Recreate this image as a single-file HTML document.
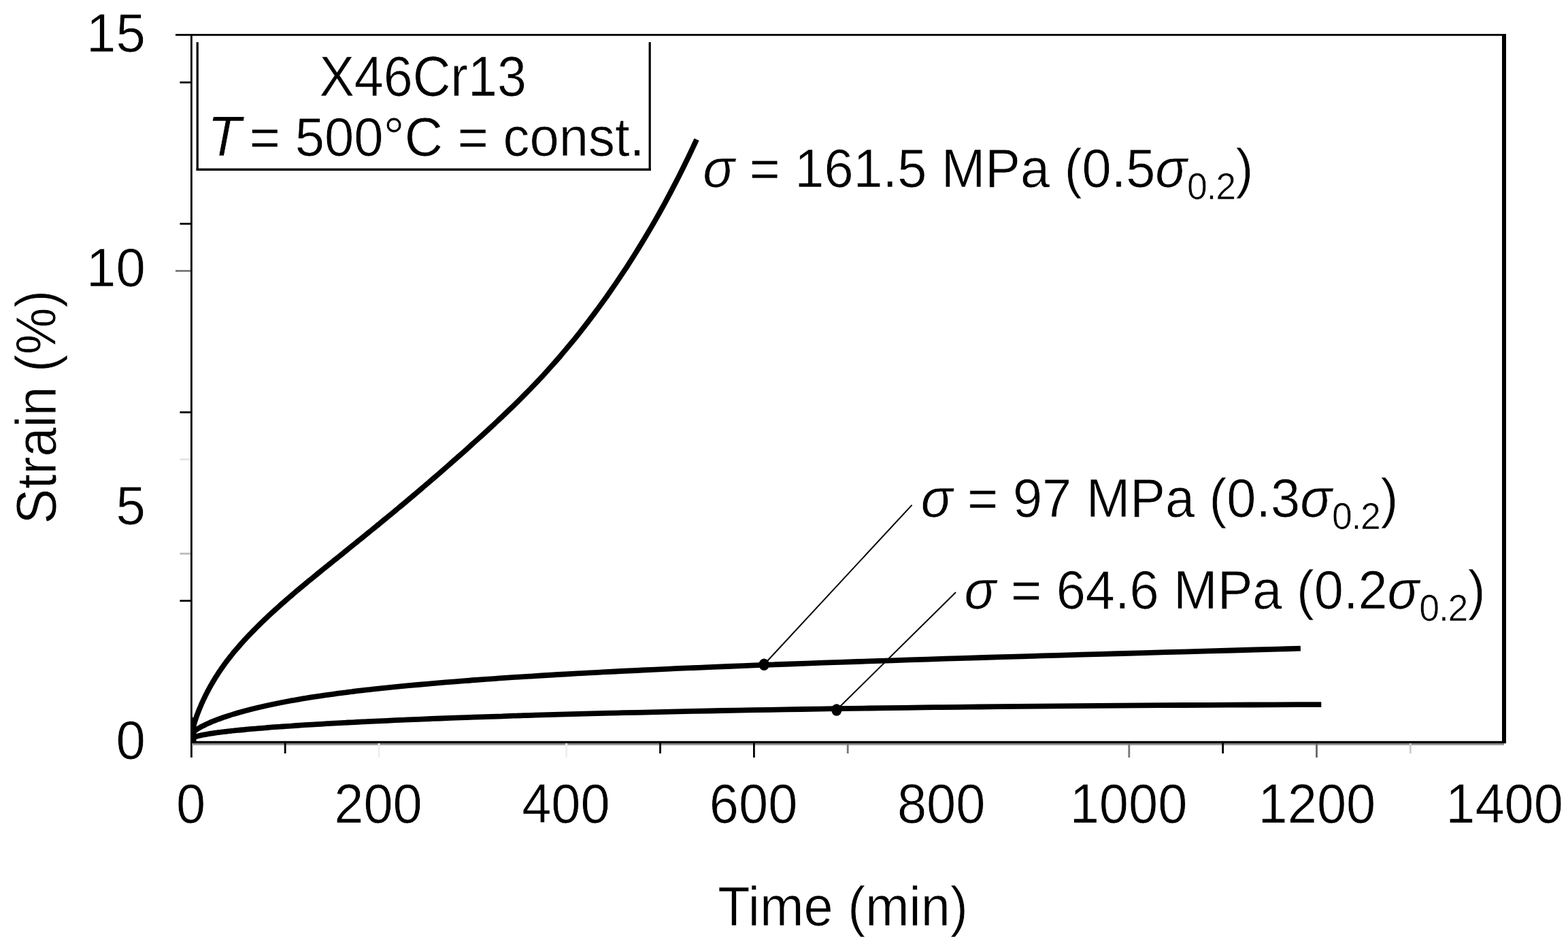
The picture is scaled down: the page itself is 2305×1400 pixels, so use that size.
<!DOCTYPE html>
<html lang="en"><head><meta charset="utf-8"><title>Creep curves X46Cr13, T = 500°C</title>
<style>html,body{margin:0;padding:0;background:#fff;}body{width:2305px;height:1400px;overflow:hidden;}svg{display:block;}text{font-family:"Liberation Sans",sans-serif;fill:#000;}.i{font-style:italic;}</style>
</head><body>
<svg width="2305" height="1400" viewBox="0 0 2305 1400">
<rect width="2305" height="1400" fill="#fff"/>
<g id="axes">
<rect x="258.00" y="49.90" width="1956.00" height="2.80" fill="#000"/>
<rect x="280.00" y="50.00" width="2.80" height="1064.00" fill="#000"/>
<rect x="2208.00" y="50.00" width="6.00" height="1043.00" fill="#000"/>
<rect x="282.00" y="1093.00" width="1929.00" height="3.00" fill="#999"/>
<rect x="280.00" y="1089.80" width="1934.00" height="3.40" fill="#000"/>
</g>
<g id="yticks">
<rect x="264.40" y="119.80" width="15.60" height="2.80" fill="#000"/>
<rect x="264.40" y="327.70" width="15.60" height="2.80" fill="#000"/>
<rect x="258.00" y="397.00" width="22.00" height="2.80" fill="#777"/>
<rect x="264.40" y="604.90" width="15.60" height="2.80" fill="#000"/>
<rect x="264.40" y="674.20" width="15.60" height="2.80" fill="#e4e4e4"/>
<rect x="264.40" y="812.80" width="15.60" height="2.80" fill="#bbb"/>
<rect x="264.40" y="882.10" width="15.60" height="2.80" fill="#000"/>
</g>
<g id="xticks">
<rect x="417.75" y="1093.00" width="2.80" height="15.00" fill="#000"/>
<rect x="555.60" y="1093.00" width="2.80" height="21.00" fill="#eee"/>
<rect x="831.30" y="1093.00" width="2.80" height="21.00" fill="#eee"/>
<rect x="969.15" y="1093.00" width="2.80" height="15.00" fill="#000"/>
<rect x="1107.00" y="1093.00" width="2.80" height="21.00" fill="#000"/>
<rect x="1244.85" y="1093.00" width="2.80" height="15.00" fill="#777"/>
<rect x="1658.40" y="1093.00" width="2.80" height="21.00" fill="#777"/>
<rect x="1796.25" y="1093.00" width="2.80" height="15.00" fill="#000"/>
<rect x="1934.10" y="1093.00" width="2.80" height="21.00" fill="#666"/>
<rect x="2071.95" y="1093.00" width="2.80" height="15.00" fill="#ccc"/>
</g>
<g id="legend">
<rect x="288.60" y="62.00" width="3.20" height="189.00" fill="#000"/>
<rect x="953.60" y="62.00" width="3.20" height="189.00" fill="#000"/>
<rect x="288.60" y="247.60" width="668.20" height="3.40" fill="#000"/>
</g>
<clipPath id="plotclip"><rect x="281" y="52" width="1928" height="1039"/></clipPath>
<g id="curves" clip-path="url(#plotclip)" fill="none" stroke="#000" stroke-width="7.8" stroke-linecap="butt" stroke-linejoin="round">
<path d="M281.5 1080.0 C281.5 1080.0 281.5 1080.2 281.5 1080.2 C281.5 1080.2 281.5 1080.2 281.5 1080.1 C281.5 1080.1 281.6 1080.0 281.6 1079.9 C281.6 1079.8 281.6 1079.6 281.7 1079.5 C281.7 1079.3 281.7 1079.1 281.8 1078.9 C281.8 1078.6 281.9 1078.4 281.9 1078.1 C282.0 1077.8 282.0 1077.4 282.1 1077.1 C282.2 1076.7 282.3 1076.4 282.4 1075.9 C282.5 1075.5 282.6 1075.1 282.7 1074.6 C282.8 1074.2 282.9 1073.7 283.0 1073.2 C283.1 1072.6 283.3 1072.1 283.4 1071.5 C283.6 1071.0 283.7 1070.4 283.9 1069.7 C284.1 1069.1 284.2 1068.5 284.4 1067.8 C284.6 1067.1 284.8 1066.4 285.0 1065.7 C285.2 1065.0 285.5 1064.3 285.7 1063.5 C285.9 1062.7 286.2 1062.0 286.4 1061.2 C286.7 1060.4 286.9 1059.5 287.2 1058.7 C287.5 1057.8 287.8 1057.0 288.1 1056.1 C288.4 1055.2 288.7 1054.3 289.1 1053.3 C289.4 1052.4 289.7 1051.5 290.1 1050.5 C290.5 1049.5 290.8 1048.5 291.2 1047.5 C291.6 1046.5 292.0 1045.5 292.4 1044.5 C292.8 1043.4 293.3 1042.4 293.7 1041.3 C294.1 1040.3 294.6 1039.2 295.1 1038.1 C295.5 1037.0 296.0 1035.8 296.5 1034.7 C297.0 1033.6 297.5 1032.4 298.1 1031.3 C298.6 1030.1 299.1 1028.9 299.7 1027.8 C300.3 1026.6 300.8 1025.4 301.4 1024.2 C302.0 1023.0 302.6 1021.7 303.3 1020.5 C303.9 1019.3 304.5 1018.0 305.2 1016.8 C305.9 1015.5 306.5 1014.2 307.2 1013.0 C307.9 1011.7 308.6 1010.4 309.3 1009.1 C310.1 1007.8 310.8 1006.5 311.6 1005.2 C312.3 1003.9 313.1 1002.6 313.9 1001.2 C314.7 999.9 315.5 998.6 316.3 997.2 C317.2 995.9 318.0 994.5 318.9 993.2 C319.7 991.8 320.6 990.5 321.5 989.1 C322.4 987.7 323.4 986.4 324.3 985.0 C325.2 983.6 326.2 982.2 327.2 980.9 C328.1 979.5 329.1 978.1 330.1 976.7 C331.2 975.3 332.2 973.9 333.2 972.5 C334.3 971.1 335.4 969.7 336.5 968.3 C337.5 966.9 338.7 965.5 339.8 964.1 C340.9 962.7 342.1 961.3 343.2 959.8 C344.4 958.4 345.6 957.0 346.8 955.6 C348.0 954.1 349.2 952.7 350.5 951.3 C351.7 949.8 353.0 948.4 354.3 946.9 C355.6 945.5 356.9 944.0 358.2 942.5 C359.6 941.1 360.9 939.6 362.3 938.1 C363.7 936.7 365.1 935.2 366.5 933.7 C367.9 932.2 369.3 930.7 370.8 929.2 C372.3 927.7 373.7 926.2 375.2 924.7 C376.7 923.2 378.3 921.7 379.8 920.1 C381.4 918.6 382.9 917.1 384.5 915.5 C386.1 914.0 387.7 912.4 389.3 910.9 C391.0 909.3 392.6 907.8 394.3 906.2 C396.0 904.6 397.7 903.0 399.4 901.4 C401.1 899.9 402.9 898.3 404.7 896.6 C406.4 895.0 408.2 893.4 410.0 891.8 C411.8 890.2 413.7 888.6 415.5 886.9 C417.4 885.3 419.3 883.6 421.2 882.0 C423.1 880.3 425.0 878.6 427.0 877.0 C429.0 875.3 430.9 873.6 432.9 871.9 C434.9 870.2 437.0 868.5 439.0 866.8 C441.1 865.0 443.1 863.3 445.2 861.6 C447.3 859.8 449.5 858.1 451.6 856.3 C453.8 854.5 455.9 852.7 458.1 850.9 C460.3 849.1 462.6 847.3 464.8 845.5 C467.0 843.6 469.3 841.8 471.6 839.9 C473.9 838.1 476.2 836.2 478.6 834.3 C480.9 832.4 483.3 830.5 485.7 828.5 C488.1 826.6 490.5 824.6 493.0 822.7 C495.4 820.7 497.9 818.7 500.4 816.7 C502.9 814.7 505.4 812.6 507.9 810.6 C510.5 808.5 513.1 806.4 515.7 804.3 C518.3 802.2 520.9 800.1 523.6 798.0 C526.2 795.8 528.9 793.7 531.6 791.5 C534.3 789.3 537.0 787.1 539.8 784.8 C542.6 782.6 545.3 780.3 548.2 778.0 C551.0 775.7 553.8 773.4 556.7 771.1 C559.5 768.7 562.4 766.3 565.4 763.9 C568.3 761.5 571.2 759.1 574.2 756.7 C577.2 754.2 580.2 751.7 583.2 749.2 C586.2 746.7 589.3 744.1 592.4 741.6 C595.5 739.0 598.6 736.4 601.7 733.7 C604.8 731.1 608.0 728.4 611.2 725.7 C614.4 723.0 617.6 720.3 620.9 717.5 C624.1 714.7 627.4 711.9 630.7 709.1 C634.0 706.2 637.4 703.4 640.7 700.5 C644.1 697.6 647.5 694.6 650.9 691.6 C654.3 688.6 657.8 685.6 661.2 682.6 C664.7 679.5 668.2 676.4 671.8 673.3 C675.3 670.2 678.9 667.0 682.5 663.8 C686.0 660.6 689.7 657.3 693.3 654.0 C697.0 650.7 700.7 647.4 704.4 644.0 C708.1 640.7 711.8 637.3 715.6 633.8 C719.3 630.3 723.1 626.8 727.0 623.3 C730.8 619.7 734.7 616.1 738.5 612.4 C742.4 608.7 746.3 605.0 750.3 601.2 C754.2 597.4 758.2 593.5 762.2 589.5 C766.2 585.5 770.3 581.5 774.3 577.3 C778.4 573.2 782.5 568.9 786.6 564.6 C790.7 560.3 794.9 555.8 799.1 551.3 C803.3 546.7 807.5 542.1 811.7 537.3 C816.0 532.5 820.3 527.6 824.6 522.6 C828.9 517.5 833.2 512.4 837.6 507.1 C842.0 501.8 846.4 496.4 850.8 490.8 C855.2 485.2 859.7 479.5 864.2 473.6 C868.7 467.8 873.2 461.7 877.8 455.5 C882.3 449.4 886.9 443.0 891.6 436.5 C896.2 429.9 900.8 423.2 905.5 416.4 C910.2 409.5 914.9 402.4 919.7 395.2 C924.4 387.9 929.2 380.5 934.0 372.8 C938.8 365.1 943.7 357.2 948.5 349.1 C953.4 340.9 958.3 332.6 963.3 323.9 C968.2 315.2 973.2 306.3 978.2 297.1 C983.2 287.8 988.2 278.3 993.3 268.4 C998.4 258.6 1003.5 248.4 1008.6 237.8 C1013.7 227.3 1021.5 210.6 1024.1 205.1"/>
<path d="M281.5 1080.1 C281.5 1080.1 281.5 1080.1 281.5 1080.0 C281.5 1080.0 281.5 1079.9 281.6 1079.8 C281.6 1079.7 281.6 1079.7 281.7 1079.6 C281.7 1079.5 281.8 1079.4 281.8 1079.2 C281.9 1079.1 282.0 1079.0 282.1 1078.8 C282.2 1078.7 282.3 1078.6 282.4 1078.4 C282.6 1078.2 282.7 1078.1 282.9 1077.9 C283.0 1077.7 283.2 1077.5 283.4 1077.3 C283.6 1077.1 283.8 1076.9 284.1 1076.7 C284.3 1076.4 284.6 1076.2 284.8 1076.0 C285.1 1075.7 285.4 1075.5 285.7 1075.2 C286.1 1075.0 286.4 1074.7 286.8 1074.4 C287.1 1074.2 287.5 1073.9 287.9 1073.6 C288.3 1073.3 288.8 1073.0 289.2 1072.7 C289.7 1072.4 290.2 1072.1 290.7 1071.8 C291.2 1071.4 291.7 1071.1 292.3 1070.8 C292.9 1070.4 293.5 1070.1 294.1 1069.7 C294.7 1069.4 295.3 1069.0 296.0 1068.7 C296.7 1068.3 297.4 1067.9 298.1 1067.6 C298.8 1067.2 299.6 1066.8 300.4 1066.4 C301.2 1066.0 302.0 1065.6 302.8 1065.2 C303.7 1064.8 304.6 1064.4 305.5 1064.0 C306.4 1063.6 307.3 1063.2 308.3 1062.8 C309.2 1062.3 310.2 1061.9 311.3 1061.5 C312.3 1061.1 313.4 1060.6 314.5 1060.2 C315.6 1059.7 316.7 1059.3 317.9 1058.8 C319.0 1058.4 320.2 1057.9 321.5 1057.5 C322.7 1057.0 324.0 1056.6 325.3 1056.1 C326.6 1055.6 327.9 1055.2 329.3 1054.7 C330.7 1054.2 332.1 1053.8 333.5 1053.3 C335.0 1052.8 336.5 1052.3 338.0 1051.9 C339.5 1051.4 341.0 1050.9 342.6 1050.4 C344.2 1049.9 345.9 1049.4 347.5 1048.9 C349.2 1048.5 350.9 1048.0 352.6 1047.5 C354.4 1047.0 356.2 1046.5 358.0 1046.0 C359.8 1045.5 361.7 1045.0 363.6 1044.5 C365.5 1044.0 367.4 1043.5 369.4 1043.0 C371.4 1042.5 373.4 1042.0 375.4 1041.5 C377.5 1041.0 379.6 1040.5 381.8 1040.0 C383.9 1039.5 386.1 1039.0 388.3 1038.5 C390.5 1038.0 392.8 1037.5 395.1 1037.0 C397.4 1036.5 399.8 1036.0 402.2 1035.5 C404.6 1035.0 407.0 1034.5 409.5 1034.0 C411.9 1033.5 414.5 1033.0 417.0 1032.5 C419.6 1032.0 422.2 1031.5 424.9 1031.0 C427.5 1030.5 430.2 1030.0 433.0 1029.6 C435.7 1029.1 438.5 1028.6 441.3 1028.1 C444.2 1027.6 447.0 1027.1 450.0 1026.7 C452.9 1026.2 455.9 1025.7 458.9 1025.2 C461.9 1024.8 465.0 1024.3 468.1 1023.8 C471.2 1023.4 474.3 1022.9 477.5 1022.4 C480.7 1022.0 484.0 1021.5 487.3 1021.1 C490.6 1020.6 493.9 1020.2 497.3 1019.7 C500.7 1019.3 504.2 1018.8 507.7 1018.4 C511.1 1017.9 514.7 1017.5 518.3 1017.0 C521.9 1016.6 525.5 1016.2 529.2 1015.7 C532.9 1015.3 536.6 1014.9 540.4 1014.4 C544.2 1014.0 548.0 1013.6 551.9 1013.1 C555.8 1012.7 559.7 1012.3 563.7 1011.9 C567.7 1011.5 571.7 1011.0 575.8 1010.6 C579.9 1010.2 584.0 1009.8 588.2 1009.4 C592.4 1009.0 596.7 1008.6 601.0 1008.2 C605.2 1007.8 609.6 1007.4 614.0 1007.0 C618.4 1006.6 622.8 1006.2 627.3 1005.8 C631.8 1005.4 636.4 1005.0 641.0 1004.6 C645.6 1004.2 650.3 1003.8 655.0 1003.4 C659.7 1003.0 664.5 1002.7 669.3 1002.3 C674.1 1001.9 679.0 1001.5 683.9 1001.1 C688.9 1000.8 693.9 1000.4 698.9 1000.0 C703.9 999.6 709.0 999.3 714.2 998.9 C719.3 998.5 724.5 998.2 729.8 997.8 C735.1 997.4 740.4 997.1 745.8 996.7 C751.1 996.3 756.6 996.0 762.0 995.6 C767.5 995.3 773.1 994.9 778.7 994.6 C784.3 994.2 789.9 993.9 795.6 993.5 C801.4 993.2 807.1 992.8 812.9 992.5 C818.8 992.1 824.7 991.8 830.6 991.5 C836.5 991.1 842.5 990.8 848.6 990.4 C854.7 990.1 860.8 989.8 867.0 989.4 C873.1 989.1 879.4 988.8 885.7 988.4 C892.0 988.1 898.3 987.8 904.7 987.5 C911.1 987.1 917.6 986.8 924.1 986.5 C930.7 986.2 937.3 985.9 943.9 985.5 C950.6 985.2 957.3 984.9 964.0 984.6 C970.8 984.3 977.6 984.0 984.5 983.7 C991.4 983.3 998.4 983.0 1005.4 982.7 C1012.4 982.4 1019.5 982.1 1026.6 981.8 C1033.8 981.5 1041.0 981.2 1048.2 980.9 C1055.5 980.6 1062.8 980.3 1070.2 980.0 C1077.6 979.7 1085.0 979.4 1092.5 979.1 C1100.0 978.8 1107.6 978.5 1115.2 978.2 C1122.9 977.9 1130.6 977.6 1138.3 977.3 C1146.1 977.0 1153.9 976.8 1161.8 976.5 C1169.7 976.2 1177.6 975.9 1185.7 975.6 C1193.7 975.3 1201.8 975.0 1209.9 974.7 C1218.0 974.4 1226.3 974.1 1234.5 973.9 C1242.8 973.6 1251.1 973.3 1259.5 973.0 C1267.9 972.7 1276.4 972.4 1284.9 972.1 C1293.5 971.9 1302.1 971.6 1310.7 971.3 C1319.4 971.0 1328.1 970.7 1336.9 970.4 C1345.7 970.1 1354.6 969.9 1363.5 969.6 C1372.4 969.3 1381.4 969.0 1390.5 968.7 C1399.5 968.4 1408.7 968.2 1417.9 967.9 C1427.1 967.6 1436.3 967.3 1445.7 967.0 C1455.0 966.7 1464.4 966.4 1473.8 966.2 C1483.3 965.9 1492.8 965.6 1502.4 965.3 C1512.0 965.0 1521.7 964.7 1531.4 964.4 C1541.2 964.2 1551.0 963.9 1560.8 963.6 C1570.7 963.3 1580.7 963.0 1590.7 962.7 C1600.7 962.4 1610.7 962.1 1620.9 961.8 C1631.0 961.5 1641.3 961.2 1651.5 961.0 C1661.8 960.7 1672.2 960.4 1682.6 960.1 C1693.0 959.8 1703.5 959.5 1714.1 959.2 C1724.7 958.9 1735.3 958.6 1746.0 958.3 C1756.7 958.0 1767.5 957.7 1778.3 957.4 C1789.2 957.1 1800.1 956.8 1811.1 956.5 C1822.1 956.2 1833.1 955.8 1844.3 955.5 C1855.4 955.2 1866.6 954.9 1877.9 954.6 C1889.1 954.3 1906.2 953.8 1911.9 953.7"/>
<path d="M281.5 1087.6 C281.5 1087.6 281.5 1087.4 281.5 1087.3 C281.5 1087.3 281.5 1087.2 281.6 1087.1 C281.6 1087.0 281.6 1086.9 281.7 1086.8 C281.7 1086.7 281.8 1086.6 281.8 1086.5 C281.9 1086.3 282.0 1086.2 282.1 1086.1 C282.2 1086.0 282.3 1085.9 282.4 1085.8 C282.6 1085.7 282.7 1085.6 282.9 1085.5 C283.1 1085.4 283.2 1085.2 283.4 1085.1 C283.6 1085.0 283.9 1084.9 284.1 1084.8 C284.4 1084.6 284.6 1084.5 284.9 1084.4 C285.2 1084.3 285.5 1084.2 285.8 1084.0 C286.1 1083.9 286.5 1083.8 286.9 1083.6 C287.2 1083.5 287.6 1083.4 288.1 1083.3 C288.5 1083.1 288.9 1083.0 289.4 1082.9 C289.9 1082.7 290.3 1082.6 290.9 1082.4 C291.4 1082.3 291.9 1082.2 292.5 1082.0 C293.1 1081.9 293.7 1081.8 294.3 1081.6 C294.9 1081.5 295.6 1081.3 296.3 1081.2 C297.0 1081.0 297.7 1080.9 298.4 1080.7 C299.2 1080.6 299.9 1080.5 300.7 1080.3 C301.5 1080.2 302.4 1080.0 303.2 1079.9 C304.1 1079.7 305.0 1079.5 305.9 1079.4 C306.8 1079.2 307.8 1079.1 308.8 1078.9 C309.8 1078.8 310.8 1078.6 311.8 1078.5 C312.9 1078.3 314.0 1078.1 315.1 1078.0 C316.2 1077.8 317.4 1077.7 318.6 1077.5 C319.7 1077.3 321.0 1077.2 322.2 1077.0 C323.5 1076.9 324.8 1076.7 326.1 1076.5 C327.4 1076.4 328.8 1076.2 330.2 1076.0 C331.6 1075.9 333.0 1075.7 334.5 1075.5 C336.0 1075.4 337.5 1075.2 339.0 1075.0 C340.6 1074.9 342.2 1074.7 343.8 1074.5 C345.4 1074.3 347.1 1074.2 348.8 1074.0 C350.5 1073.8 352.2 1073.7 354.0 1073.5 C355.7 1073.3 357.6 1073.1 359.4 1073.0 C361.3 1072.8 363.2 1072.6 365.1 1072.4 C367.0 1072.3 369.0 1072.1 371.0 1071.9 C373.0 1071.7 375.1 1071.5 377.2 1071.4 C379.3 1071.2 381.4 1071.0 383.6 1070.8 C385.8 1070.6 388.0 1070.5 390.3 1070.3 C392.6 1070.1 394.9 1069.9 397.2 1069.7 C399.6 1069.6 402.0 1069.4 404.4 1069.2 C406.8 1069.0 409.3 1068.8 411.8 1068.7 C414.4 1068.5 416.9 1068.3 419.6 1068.1 C422.2 1067.9 424.8 1067.7 427.5 1067.6 C430.2 1067.4 433.0 1067.2 435.8 1067.0 C438.6 1066.8 441.4 1066.6 444.3 1066.4 C447.2 1066.3 450.1 1066.1 453.1 1065.9 C456.1 1065.7 459.1 1065.5 462.2 1065.3 C465.3 1065.2 468.4 1065.0 471.5 1064.8 C474.7 1064.6 477.9 1064.4 481.2 1064.2 C484.5 1064.0 487.8 1063.9 491.1 1063.7 C494.5 1063.5 497.9 1063.3 501.4 1063.1 C504.8 1062.9 508.3 1062.7 511.9 1062.5 C515.4 1062.4 519.0 1062.2 522.7 1062.0 C526.3 1061.8 530.0 1061.6 533.8 1061.4 C537.5 1061.2 541.4 1061.1 545.2 1060.9 C549.1 1060.7 553.0 1060.5 556.9 1060.3 C560.9 1060.1 564.9 1060.0 569.0 1059.8 C573.0 1059.6 577.1 1059.4 581.3 1059.2 C585.5 1059.0 589.7 1058.8 593.9 1058.7 C598.2 1058.5 602.5 1058.3 606.9 1058.1 C611.3 1057.9 615.7 1057.7 620.2 1057.6 C624.7 1057.4 629.2 1057.2 633.8 1057.0 C638.4 1056.8 643.0 1056.7 647.7 1056.5 C652.4 1056.3 657.1 1056.1 661.9 1055.9 C666.8 1055.7 671.6 1055.6 676.5 1055.4 C681.4 1055.2 686.4 1055.0 691.4 1054.9 C696.5 1054.7 701.5 1054.5 706.7 1054.3 C711.8 1054.1 717.0 1054.0 722.2 1053.8 C727.5 1053.6 732.8 1053.4 738.1 1053.3 C743.5 1053.1 748.9 1052.9 754.4 1052.7 C759.9 1052.6 765.4 1052.4 771.0 1052.2 C776.6 1052.1 782.2 1051.9 787.9 1051.7 C793.6 1051.5 799.4 1051.4 805.2 1051.2 C811.0 1051.0 816.9 1050.9 822.8 1050.7 C828.8 1050.5 834.8 1050.4 840.8 1050.2 C846.9 1050.0 853.0 1049.9 859.2 1049.7 C865.3 1049.5 871.6 1049.4 877.9 1049.2 C884.1 1049.0 890.5 1048.9 896.9 1048.7 C903.3 1048.6 909.8 1048.4 916.3 1048.2 C922.8 1048.1 929.4 1047.9 936.1 1047.8 C942.7 1047.6 949.5 1047.4 956.2 1047.3 C963.0 1047.1 969.8 1047.0 976.7 1046.8 C983.6 1046.7 990.6 1046.5 997.6 1046.4 C1004.6 1046.2 1011.7 1046.1 1018.9 1045.9 C1026.0 1045.8 1033.2 1045.6 1040.5 1045.5 C1047.8 1045.3 1055.1 1045.2 1062.5 1045.0 C1069.9 1044.9 1077.3 1044.8 1084.9 1044.6 C1092.4 1044.5 1100.0 1044.3 1107.6 1044.2 C1115.3 1044.1 1123.0 1043.9 1130.8 1043.8 C1138.5 1043.6 1146.4 1043.5 1154.3 1043.4 C1162.2 1043.2 1170.2 1043.1 1178.2 1043.0 C1186.2 1042.8 1194.3 1042.7 1202.5 1042.6 C1210.7 1042.5 1218.9 1042.3 1227.2 1042.2 C1235.5 1042.1 1243.8 1042.0 1252.3 1041.8 C1260.7 1041.7 1269.2 1041.6 1277.7 1041.5 C1286.3 1041.4 1294.9 1041.2 1303.6 1041.1 C1312.3 1041.0 1321.1 1040.9 1329.9 1040.8 C1338.7 1040.7 1347.6 1040.5 1356.6 1040.4 C1365.5 1040.3 1374.6 1040.2 1383.6 1040.1 C1392.7 1040.0 1401.9 1039.9 1411.1 1039.8 C1420.4 1039.7 1429.7 1039.6 1439.0 1039.5 C1448.4 1039.4 1457.8 1039.3 1467.3 1039.2 C1476.8 1039.1 1486.4 1039.0 1496.0 1038.9 C1505.7 1038.8 1515.4 1038.7 1525.2 1038.6 C1534.9 1038.5 1544.8 1038.4 1554.7 1038.4 C1564.6 1038.3 1574.6 1038.2 1584.7 1038.1 C1594.7 1038.0 1604.8 1037.9 1615.0 1037.9 C1625.2 1037.8 1635.5 1037.7 1645.8 1037.6 C1656.2 1037.6 1666.6 1037.5 1677.0 1037.4 C1687.5 1037.3 1698.1 1037.3 1708.7 1037.2 C1719.3 1037.1 1730.0 1037.1 1740.8 1037.0 C1751.5 1036.9 1762.4 1036.9 1773.3 1036.8 C1784.2 1036.8 1795.1 1036.7 1806.2 1036.7 C1817.2 1036.6 1828.4 1036.5 1839.6 1036.5 C1850.7 1036.4 1862.0 1036.4 1873.3 1036.4 C1884.7 1036.3 1896.1 1036.3 1907.6 1036.2 C1919.1 1036.2 1936.5 1036.1 1942.3 1036.1"/>
</g>
<path id="origin-blob" d="M282 1090 L282 1052 L285 1058 L288.5 1064 L288.5 1090 Z" fill="#000"/>
<g id="leaders" stroke="#000" stroke-width="2" fill="#000">
<line x1="1123.2" y1="977.2" x2="1340.6" y2="742.6"/>
<line x1="1229.8" y1="1044.0" x2="1405.0" y2="871.0"/>
<ellipse cx="1123.2" cy="977.2" rx="7.7" ry="8.8" stroke="none"/>
<ellipse cx="1229.8" cy="1044.0" rx="7.7" ry="8.8" stroke="none"/>
</g>
<g id="labels" font-size="78" stroke="#fff" stroke-width="0.7" stroke-linejoin="round">
<text transform="translate(213.80 76.40) scale(1.0000 1.0150)" text-anchor="end">15</text>
<text transform="translate(213.80 421.20) scale(1.0000 1.0150)" text-anchor="end">10</text>
<text transform="translate(213.80 770.60) scale(1.0000 1.0150)" text-anchor="end">5</text>
<text transform="translate(213.80 1115.60) scale(1.0000 1.0150)" text-anchor="end">0</text>
<text transform="translate(280.70 1209.60) scale(0.9950 1.0450)" text-anchor="middle">0</text>
<text transform="translate(556.00 1209.60) scale(0.9950 1.0450)" text-anchor="middle">200</text>
<text transform="translate(831.90 1209.60) scale(0.9950 1.0450)" text-anchor="middle">400</text>
<text transform="translate(1107.60 1209.60) scale(0.9950 1.0450)" text-anchor="middle">600</text>
<text transform="translate(1383.70 1209.60) scale(0.9950 1.0450)" text-anchor="middle">800</text>
<text transform="translate(1659.00 1209.60) scale(0.9950 1.0450)" text-anchor="middle">1000</text>
<text transform="translate(1935.90 1209.60) scale(0.9950 1.0450)" text-anchor="middle">1200</text>
<text transform="translate(2211.60 1209.60) scale(0.9950 1.0450)" text-anchor="middle">1400</text>
<text transform="translate(1239.00 1361.30) scale(0.9940 1.0350)" text-anchor="middle">Time (min)</text>
<text transform="translate(81.60 598.60) rotate(-90) scale(0.9920 1.0700)" text-anchor="middle">Strain (%)</text>
<text transform="translate(621.60 140.90) scale(0.9890 1.0700)" text-anchor="middle">X46Cr13</text>
<text transform="translate(305.00 229.40) scale(1.0400 1.0600)"><tspan class="i">T</tspan></text>
<text transform="translate(366.60 229.40) scale(0.9980 1.0300)">= 500°C = const.</text>
<text transform="translate(1033.20 275.40) scale(0.9940 1.0120)"><tspan class="i">σ</tspan> = 161.5 MPa (0.5<tspan class="i">σ</tspan><tspan font-size="54" dy="17.6" letter-spacing="-1.3">0.2</tspan><tspan dy="-17.6" dx="0.8">)</tspan></text>
<text transform="translate(1353.80 760.40) scale(0.9940 1.0120)"><tspan class="i">σ</tspan> = 97 MPa (0.3<tspan class="i">σ</tspan><tspan font-size="54" dy="17.6" letter-spacing="-1.3">0.2</tspan><tspan dy="-17.6" dx="0.8">)</tspan></text>
<text transform="translate(1417.60 895.10) scale(0.9940 1.0120)"><tspan class="i">σ</tspan> = 64.6 MPa (0.2<tspan class="i">σ</tspan><tspan font-size="54" dy="17.6" letter-spacing="-1.3">0.2</tspan><tspan dy="-17.6" dx="0.8">)</tspan></text>
</g>
</svg>
</body></html>
